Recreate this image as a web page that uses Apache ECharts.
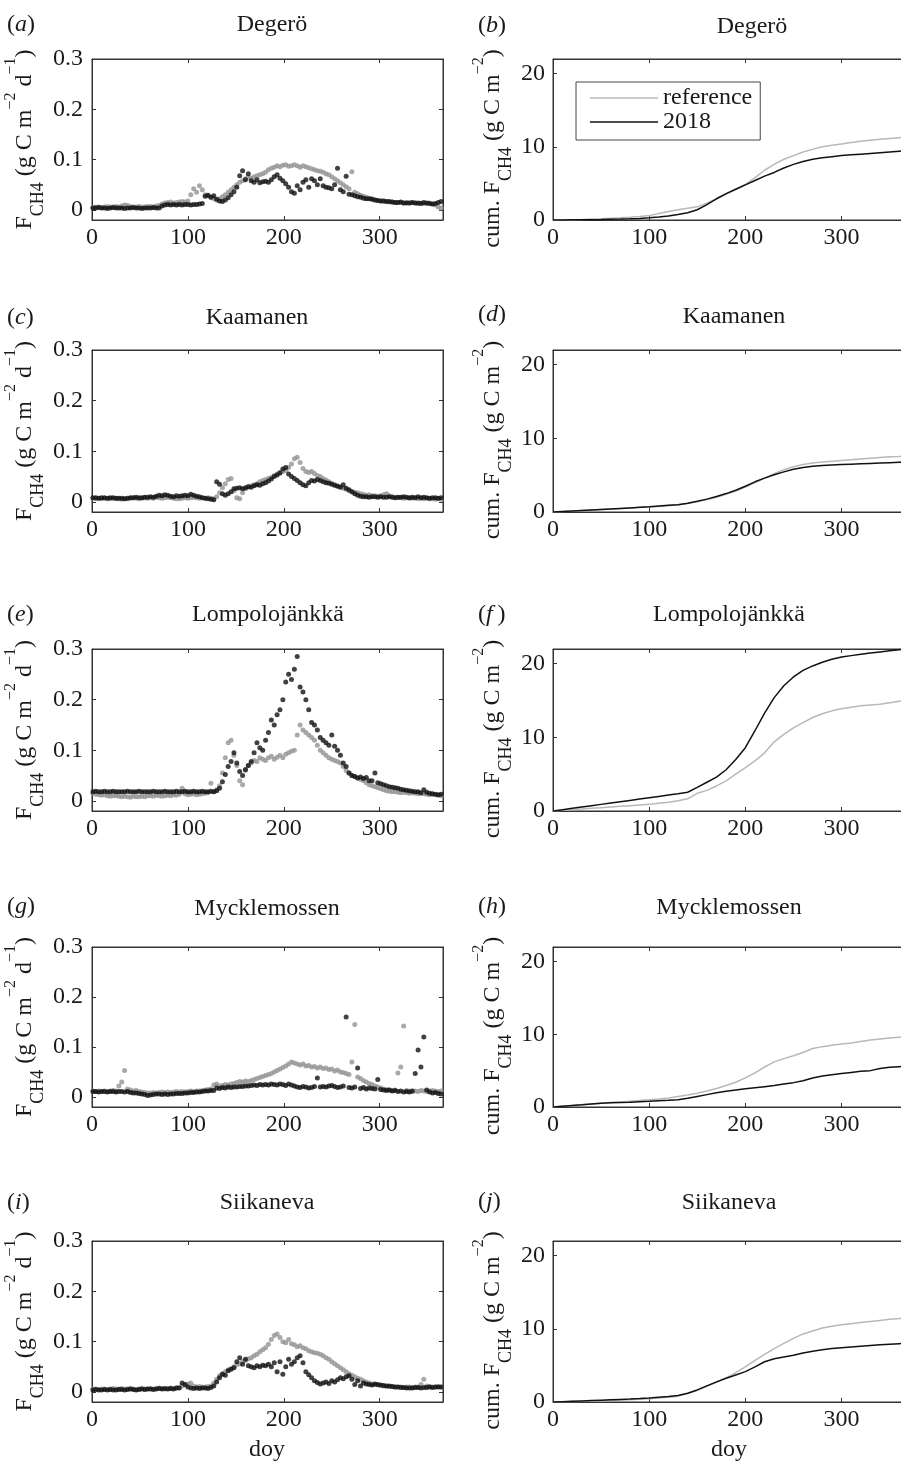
<!DOCTYPE html>
<html>
<head>
<meta charset="utf-8">
<title>CH4 fluxes, reference vs 2018</title>
<script src="https://cdn.jsdelivr.net/npm/echarts@6/dist/echarts.min.js"></script>
<style>
    html, body { margin: 0; padding: 0; background: #ffffff; }
    #chart { width: 901px; height: 1461px; }
</style>
</head>
<body>
<div id="chart"></div>
<script>
'use strict';

// ---- data ----
// day of year for the daily flux dots (every third day)
var days = [
    1, 4, 7, 10, 13, 16, 19, 22, 25, 28,
    31, 34, 37, 40, 43, 46, 49, 52, 55, 58,
    61, 64, 67, 70, 73, 76, 79, 82, 85, 88,
    91, 94, 97, 100, 103, 106, 109, 112, 115, 118,
    121, 124, 127, 130, 133, 136, 139, 142, 145, 148,
    151, 154, 157, 160, 163, 166, 169, 172, 175, 178,
    181, 184, 187, 190, 193, 196, 199, 202, 205, 208,
    211, 214, 217, 220, 223, 226, 229, 232, 235, 238,
    241, 244, 247, 250, 253, 256, 259, 262, 265, 268,
    271, 274, 277, 280, 283, 286, 289, 292, 295, 298,
    301, 304, 307, 310, 313, 316, 319, 322, 325, 328,
    331, 334, 337, 340, 343, 346, 349, 352, 355, 358,
    361, 364
];
// day of year for the cumulative curves
var cumDays = [0, 10, 20, 30, 40, 50, 60, 70, 80, 90, 100, 110, 120, 130, 140, 150, 160, 170, 180, 190,
    200, 210, 220, 230, 240, 250, 260, 270, 280, 290, 300, 310, 320, 330, 340, 350, 360, 366];

// tick labels
var fluxTicks = [0, 0.1, 0.2, 0.3];
var cumTicks = [0, 10, 20];
var doyTicks = [0, 100, 200, 300];

// daily F_CH4 (g C m-2 d-1)
var degeroRef = [
    0.005, 0.006, 0.006, 0.005, 0.006, 0.007, 0.006, 0.006, 0.007, 0.006,
    0.008, 0.010, 0.009, 0.007, 0.006, 0.006, 0.007, 0.006, 0.006, 0.007,
    0.007, 0.006, 0.008, 0.009, 0.012, 0.014, 0.015, 0.016, 0.014, 0.015,
    0.016, 0.017, 0.016, 0.018, 0.030, 0.042, 0.035, 0.048, 0.040, 0.030,
    0.028, 0.025, 0.022, 0.020, 0.022, 0.026, 0.030, 0.035, 0.040, 0.045,
    0.050, 0.055, 0.058, 0.062, 0.065, 0.063, 0.066, 0.068, 0.070, 0.072,
    0.075, 0.080, 0.083, 0.085, 0.088, 0.086, 0.089, 0.090, 0.087, 0.088,
    0.090, 0.088, 0.085, 0.088, 0.086, 0.084, 0.082, 0.080, 0.078, 0.077,
    0.075, 0.072, 0.070, 0.066, 0.062, 0.058, 0.054, 0.050, 0.046, 0.042,
    0.076, 0.035, 0.032, 0.029, 0.027, 0.025, 0.023, 0.022, 0.020, 0.019,
    0.018, 0.018, 0.017, 0.016, 0.016, 0.015, 0.015, 0.015, 0.014, 0.015,
    0.014, 0.015, 0.014, 0.013, 0.014, 0.013, 0.013, 0.014, 0.012, 0.010,
    0.006, 0.004
];
var degero2018 = [
    0.004, 0.004, 0.005, 0.004, 0.004, 0.003, 0.004, 0.005, 0.004, 0.004,
    0.004, 0.003, 0.004, 0.004, 0.005, 0.004, 0.004, 0.003, 0.004, 0.004,
    0.004, 0.005, 0.004, 0.004, 0.008, 0.010, 0.011, 0.010, 0.011, 0.010,
    0.011, 0.010, 0.011, 0.011, 0.010, 0.011, 0.011, 0.012, 0.013, 0.027,
    0.029, 0.025, 0.028, 0.021, 0.018, 0.017, 0.020, 0.024, 0.030, 0.036,
    0.045, 0.068, 0.078, 0.060, 0.072, 0.058, 0.055, 0.060, 0.054, 0.056,
    0.057, 0.055, 0.060, 0.066, 0.070, 0.063, 0.058, 0.052, 0.045, 0.036,
    0.033, 0.048, 0.040, 0.055, 0.060, 0.045, 0.062, 0.058, 0.050, 0.062,
    0.048, 0.045, 0.044, 0.042, 0.050, 0.083, 0.040, 0.036, 0.067, 0.031,
    0.030, 0.028, 0.026, 0.025, 0.023, 0.022, 0.022, 0.021, 0.020, 0.019,
    0.018, 0.018, 0.017, 0.017, 0.016, 0.015, 0.015, 0.016, 0.014, 0.014,
    0.014, 0.015, 0.014, 0.014, 0.013, 0.015, 0.014, 0.013, 0.012, 0.013,
    0.015, 0.017
];
var kaamanenRef = [
    0.007, 0.006, 0.007, 0.006, 0.007, 0.006, 0.006, 0.007, 0.006, 0.006,
    0.005, 0.006, 0.006, 0.007, 0.008, 0.007, 0.006, 0.007, 0.008, 0.007,
    0.008, 0.007, 0.009, 0.008, 0.007, 0.008, 0.009, 0.008, 0.007, 0.006,
    0.006, 0.007, 0.008, 0.007, 0.008, 0.009, 0.008, 0.007, 0.008, 0.007,
    0.008, 0.007, 0.006, 0.010, 0.018, 0.028, 0.036, 0.044, 0.046, 0.022,
    0.008, 0.006, 0.018, 0.026, 0.030, 0.032, 0.034, 0.036, 0.040, 0.042,
    0.044, 0.046, 0.048, 0.052, 0.055, 0.058, 0.060, 0.062, 0.068, 0.075,
    0.085, 0.088, 0.078, 0.066, 0.060, 0.058, 0.060, 0.056, 0.052, 0.050,
    0.046, 0.043, 0.040, 0.037, 0.034, 0.032, 0.030, 0.027, 0.025, 0.022,
    0.020, 0.019, 0.018, 0.016, 0.015, 0.013, 0.014, 0.012, 0.012, 0.011,
    0.012, 0.014, 0.016, 0.012, 0.010, 0.009, 0.008, 0.008, 0.007, 0.008,
    0.007, 0.007, 0.008, 0.006, 0.007, 0.006, 0.007, 0.006, 0.006, 0.005,
    0.006, 0.005
];
var kaamanen2018 = [
    0.008, 0.008, 0.007, 0.008, 0.008, 0.007, 0.008, 0.008, 0.007, 0.007,
    0.007, 0.006, 0.007, 0.008, 0.008, 0.009, 0.008, 0.008, 0.009, 0.009,
    0.010, 0.009, 0.011, 0.013, 0.012, 0.014, 0.013, 0.011, 0.010, 0.012,
    0.011, 0.012, 0.013, 0.012, 0.015, 0.013, 0.011, 0.010, 0.008, 0.007,
    0.006, 0.005, 0.004, 0.040, 0.035, 0.016, 0.013, 0.016, 0.020, 0.026,
    0.027, 0.028, 0.026, 0.028, 0.030, 0.029, 0.032, 0.034, 0.033, 0.036,
    0.038, 0.041, 0.045, 0.050, 0.053, 0.057, 0.065, 0.068, 0.055, 0.050,
    0.046, 0.042, 0.038, 0.034, 0.032, 0.038, 0.042, 0.041, 0.044, 0.042,
    0.040, 0.038, 0.037, 0.035, 0.033, 0.031, 0.029, 0.034, 0.027, 0.024,
    0.020, 0.016, 0.013, 0.011, 0.010, 0.010, 0.009, 0.010, 0.010, 0.009,
    0.010, 0.009, 0.009, 0.010, 0.009, 0.008, 0.009, 0.009, 0.010, 0.009,
    0.008, 0.009, 0.008, 0.010, 0.008, 0.009, 0.008, 0.007, 0.008, 0.008,
    0.007, 0.008
];
var lompoloRef = [
    0.015, 0.013, 0.012, 0.011, 0.012, 0.010, 0.009, 0.010, 0.010, 0.009,
    0.008, 0.009, 0.008, 0.007, 0.009, 0.008, 0.008, 0.009, 0.008, 0.010,
    0.010, 0.009, 0.011, 0.010, 0.009, 0.010, 0.011, 0.010, 0.012, 0.011,
    0.013, 0.025, 0.014, 0.012, 0.013, 0.014, 0.012, 0.013, 0.014, 0.015,
    0.016, 0.035, 0.018, 0.022, 0.030, 0.055, 0.085, 0.115, 0.120, 0.090,
    0.070, 0.040, 0.032, 0.060, 0.070, 0.075, 0.080, 0.078, 0.085, 0.082,
    0.080, 0.085, 0.088, 0.082, 0.086, 0.090, 0.085, 0.092, 0.095, 0.098,
    0.100, 0.130, 0.150, 0.140, 0.135, 0.130, 0.125, 0.120, 0.110, 0.100,
    0.095, 0.090, 0.085, 0.082, 0.080, 0.078, 0.075, 0.068, 0.060, 0.055,
    0.050, 0.048, 0.045, 0.042, 0.040, 0.036, 0.032, 0.030, 0.028, 0.026,
    0.024, 0.022, 0.020, 0.019, 0.018, 0.018, 0.017, 0.016, 0.017, 0.016,
    0.015, 0.016, 0.015, 0.014, 0.015, 0.014, 0.013, 0.012, 0.013, 0.012,
    0.011, 0.010
];
var lompolo2018 = [
    0.018, 0.019, 0.018, 0.018, 0.019, 0.018, 0.018, 0.019, 0.018, 0.018,
    0.018, 0.018, 0.019, 0.018, 0.018, 0.018, 0.019, 0.018, 0.018, 0.018,
    0.018, 0.019, 0.018, 0.018, 0.018, 0.019, 0.018, 0.018, 0.018, 0.019,
    0.018, 0.018, 0.019, 0.018, 0.018, 0.019, 0.018, 0.018, 0.019, 0.018,
    0.018, 0.019, 0.018, 0.020, 0.025, 0.038, 0.052, 0.068, 0.078, 0.095,
    0.075, 0.058, 0.050, 0.062, 0.070, 0.078, 0.095, 0.115, 0.105, 0.100,
    0.120, 0.135, 0.160, 0.150, 0.170, 0.180, 0.200, 0.235, 0.250, 0.240,
    0.260, 0.285, 0.225, 0.215, 0.200, 0.180, 0.155, 0.150, 0.140, 0.125,
    0.120, 0.115, 0.110, 0.130, 0.108, 0.100, 0.090, 0.075, 0.068, 0.055,
    0.050, 0.048, 0.045, 0.047, 0.044, 0.046, 0.040, 0.040, 0.055, 0.036,
    0.034, 0.032, 0.030, 0.028, 0.027, 0.026, 0.025, 0.023, 0.022, 0.021,
    0.020, 0.019, 0.018, 0.018, 0.016, 0.022, 0.017, 0.015, 0.014, 0.013,
    0.012, 0.013
];
var myckleRef = [
    0.012, 0.011, 0.012, 0.011, 0.012, 0.011, 0.012, 0.013, 0.012, 0.022,
    0.030, 0.053, 0.016, 0.014, 0.012, 0.013, 0.011, 0.010, 0.009, 0.008,
    0.008, 0.009, 0.008, 0.009, 0.010, 0.009, 0.010, 0.009, 0.010, 0.011,
    0.010, 0.011, 0.010, 0.011, 0.012, 0.011, 0.012, 0.012, 0.013, 0.014,
    0.015, 0.016, 0.024, 0.026, 0.022, 0.023, 0.025, 0.024, 0.026, 0.027,
    0.029, 0.031, 0.030, 0.032, 0.031, 0.033, 0.035, 0.037, 0.039, 0.041,
    0.043, 0.045, 0.047, 0.050, 0.053, 0.056, 0.059, 0.062, 0.066, 0.070,
    0.068, 0.066, 0.064, 0.066, 0.062, 0.063, 0.060, 0.061, 0.058, 0.060,
    0.057, 0.058, 0.055, 0.056, 0.052, 0.054, 0.050, 0.049, 0.047, 0.045,
    0.070, 0.145, 0.040, 0.037, 0.033, 0.030, 0.027, 0.025, 0.022, 0.020,
    0.018, 0.016, 0.015, 0.014, 0.013, 0.014, 0.048, 0.060, 0.142, 0.013,
    0.012, 0.011, 0.012, 0.011, 0.013, 0.012, 0.011, 0.012, 0.013, 0.012,
    0.011, 0.012
];
var myckle2018 = [
    0.011, 0.011, 0.010, 0.011, 0.011, 0.010, 0.011, 0.011, 0.010, 0.011,
    0.011, 0.010, 0.011, 0.009, 0.008, 0.008, 0.007, 0.006, 0.005, 0.003,
    0.004, 0.005, 0.006, 0.006, 0.005, 0.006, 0.005, 0.006, 0.006, 0.007,
    0.007, 0.007, 0.008, 0.008, 0.009, 0.009, 0.010, 0.010, 0.011, 0.012,
    0.012, 0.013, 0.013, 0.018, 0.017, 0.019, 0.018, 0.020, 0.019, 0.020,
    0.020, 0.021, 0.021, 0.022, 0.022, 0.023, 0.024, 0.023, 0.025, 0.024,
    0.025, 0.024, 0.026, 0.025, 0.024, 0.026, 0.025, 0.023, 0.026, 0.024,
    0.022, 0.020, 0.019, 0.021, 0.020, 0.018, 0.019, 0.021, 0.038, 0.020,
    0.021, 0.020, 0.022, 0.023, 0.021, 0.019, 0.020, 0.022, 0.160, 0.019,
    0.018, 0.020, 0.058, 0.017, 0.019, 0.016, 0.018, 0.017, 0.016, 0.035,
    0.015, 0.014, 0.013, 0.014, 0.012, 0.013, 0.011, 0.012, 0.010, 0.011,
    0.010, 0.012, 0.047, 0.094, 0.060, 0.120, 0.014, 0.010, 0.008, 0.009,
    0.007, 0.006
];
var siikaRef = [
    0.006, 0.006, 0.005, 0.006, 0.006, 0.005, 0.006, 0.007, 0.006, 0.006,
    0.007, 0.006, 0.006, 0.007, 0.006, 0.005, 0.006, 0.007, 0.006, 0.006,
    0.007, 0.006, 0.007, 0.008, 0.007, 0.006, 0.007, 0.008, 0.007, 0.008,
    0.009, 0.012, 0.014, 0.016, 0.018, 0.012, 0.010, 0.011, 0.010, 0.010,
    0.011, 0.012, 0.018, 0.025, 0.032, 0.036, 0.040, 0.044, 0.046, 0.050,
    0.054, 0.056, 0.060, 0.062, 0.066, 0.068, 0.072, 0.075, 0.080, 0.084,
    0.088, 0.095, 0.104, 0.112, 0.115, 0.108, 0.100, 0.098, 0.104, 0.096,
    0.094, 0.090, 0.092, 0.088, 0.086, 0.082, 0.080, 0.078, 0.077, 0.075,
    0.072, 0.068, 0.065, 0.060, 0.056, 0.052, 0.048, 0.044, 0.040, 0.036,
    0.033, 0.030, 0.027, 0.025, 0.022, 0.020, 0.018, 0.016, 0.015, 0.014,
    0.013, 0.012, 0.012, 0.011, 0.011, 0.010, 0.010, 0.010, 0.009, 0.010,
    0.010, 0.009, 0.010, 0.010, 0.015, 0.025, 0.012, 0.011, 0.010, 0.010,
    0.011, 0.010
];
var siika2018 = [
    0.004, 0.005, 0.004, 0.004, 0.005, 0.004, 0.005, 0.004, 0.004, 0.005,
    0.005, 0.004, 0.005, 0.006, 0.005, 0.004, 0.005, 0.006, 0.005, 0.006,
    0.006, 0.005, 0.006, 0.007, 0.006, 0.007, 0.006, 0.007, 0.006, 0.008,
    0.008, 0.018, 0.015, 0.010, 0.008, 0.007, 0.008, 0.007, 0.008, 0.008,
    0.007, 0.009, 0.012, 0.020, 0.028, 0.035, 0.033, 0.042, 0.045, 0.048,
    0.060, 0.068, 0.055, 0.065, 0.052, 0.050, 0.048, 0.052, 0.050, 0.053,
    0.052, 0.055, 0.050, 0.058, 0.040, 0.060, 0.035, 0.050, 0.065, 0.055,
    0.060, 0.068, 0.072, 0.058, 0.040, 0.034, 0.028, 0.022, 0.019, 0.016,
    0.018, 0.020, 0.017, 0.022, 0.020, 0.024, 0.028, 0.026, 0.030, 0.032,
    0.025, 0.015, 0.022, 0.012, 0.018, 0.016, 0.015, 0.014, 0.016, 0.015,
    0.014, 0.013, 0.012, 0.012, 0.011, 0.010, 0.010, 0.009, 0.009, 0.008,
    0.008, 0.008, 0.009, 0.009, 0.008, 0.009, 0.009, 0.010, 0.009, 0.010,
    0.010, 0.010
];

// cumulative F_CH4 (g C m-2)
var degeroCumRef = [0, 0.02, 0.05, 0.08, 0.13, 0.18, 0.24, 0.3, 0.38, 0.48, 0.6, 0.9, 1.15, 1.4, 1.6, 1.8, 2.3, 2.9, 3.5, 4.2,
    4.85, 5.8, 6.8, 7.6, 8.3, 8.8, 9.3, 9.65, 10.0, 10.2, 10.4, 10.6, 10.75, 10.9, 11.05, 11.15, 11.25, 11.3];
var degeroCum2018 = [0, 0.01, 0.02, 0.03, 0.05, 0.07, 0.1, 0.13, 0.17, 0.22, 0.3, 0.4, 0.55, 0.75, 1.0, 1.4, 2.1, 2.9, 3.6, 4.2,
    4.8, 5.4, 6.0, 6.5, 7.1, 7.6, 8.0, 8.3, 8.5, 8.65, 8.8, 8.9, 9.0, 9.1, 9.2, 9.3, 9.4, 9.45];
var kaamanenCumRef = [0, 0.07, 0.13, 0.2, 0.27, 0.34, 0.4, 0.47, 0.54, 0.6, 0.67, 0.75, 0.85, 0.97, 1.15, 1.4, 1.7, 2.0, 2.4, 2.85,
    3.4, 4.0, 4.6, 5.2, 5.75, 6.15, 6.45, 6.65, 6.8, 6.9, 7.0, 7.1, 7.2, 7.3, 7.4, 7.5, 7.55, 7.6];
var kaamanenCum2018 = [0, 0.07, 0.14, 0.21, 0.28, 0.35, 0.42, 0.49, 0.56, 0.63, 0.7, 0.8, 0.9, 1.0, 1.2, 1.45, 1.75, 2.1, 2.5, 2.95,
    3.5, 4.1, 4.6, 5.05, 5.45, 5.8, 6.05, 6.2, 6.3, 6.38, 6.45, 6.5, 6.55, 6.6, 6.65, 6.7, 6.75, 6.78];
var lompoloCumRef = [0, 0.09, 0.18, 0.27, 0.36, 0.45, 0.54, 0.63, 0.72, 0.81, 0.9, 1.05, 1.2, 1.4, 1.65, 2.4, 2.8, 3.4, 4.1, 5.0,
    5.9, 6.8, 7.9, 9.4, 10.4, 11.3, 12.0, 12.7, 13.2, 13.6, 13.9, 14.1, 14.3, 14.4, 14.5, 14.7, 14.9, 15.0];
var lompoloCum2018 = [0, 0.18, 0.36, 0.54, 0.72, 0.9, 1.08, 1.26, 1.44, 1.62, 1.8, 1.98, 2.16, 2.34, 2.55, 3.2, 3.9, 4.6, 5.6, 7.0,
    8.6, 10.9, 13.3, 15.4, 17.0, 18.2, 19.1, 19.7, 20.2, 20.6, 20.9, 21.1, 21.3, 21.45, 21.6, 21.75, 21.9, 22.0];
var myckleCumRef = [0, 0.12, 0.22, 0.32, 0.42, 0.52, 0.62, 0.7, 0.8, 0.9, 1.0, 1.1, 1.25, 1.45, 1.65, 1.9, 2.2, 2.55, 2.95, 3.4,
    4.0, 4.7, 5.5, 6.2, 6.65, 7.05, 7.5, 8.05, 8.3, 8.5, 8.65, 8.8, 9.0, 9.2, 9.35, 9.5, 9.6, 9.65];
var myckleCum2018 = [0, 0.1, 0.2, 0.3, 0.42, 0.52, 0.58, 0.62, 0.66, 0.72, 0.78, 0.85, 0.92, 1.0, 1.2, 1.45, 1.7, 1.95, 2.15, 2.35,
    2.5, 2.65, 2.8, 2.95, 3.15, 3.35, 3.6, 4.0, 4.25, 4.45, 4.6, 4.75, 4.9, 5.0, 5.3, 5.45, 5.55, 5.6];
var siikaCumRef = [0, 0.03, 0.07, 0.1, 0.14, 0.18, 0.22, 0.27, 0.32, 0.38, 0.45, 0.55, 0.65, 0.8, 1.15, 1.6, 2.15, 2.7, 3.3, 4.0,
    4.8, 5.7, 6.5, 7.3, 8.0, 8.7, 9.3, 9.7, 10.1, 10.35, 10.55, 10.7, 10.85, 11.0, 11.15, 11.3, 11.4, 11.45];
var siikaCum2018 = [0, 0.05, 0.1, 0.15, 0.2, 0.25, 0.3, 0.35, 0.4, 0.47, 0.55, 0.65, 0.75, 0.88, 1.2, 1.65, 2.2, 2.75, 3.25, 3.7,
    4.15, 4.8, 5.5, 5.9, 6.15, 6.4, 6.7, 6.95, 7.15, 7.3, 7.42, 7.52, 7.62, 7.72, 7.82, 7.9, 7.97, 8.0];

var siteNames = ['Degerö', 'Kaamanen', 'Lompolojänkkä', 'Mycklemossen', 'Siikaneva'];
var panelLetters = [['a', 'b'], ['c', 'd'], ['e', 'f'], ['g', 'h'], ['i', 'j']];
var seriesNames = ['reference', '2018'];

var sites = [
    { ref: degeroRef, now: degero2018, cumRef: degeroCumRef, cumNow: degeroCum2018 },
    { ref: kaamanenRef, now: kaamanen2018, cumRef: kaamanenCumRef, cumNow: kaamanenCum2018 },
    { ref: lompoloRef, now: lompolo2018, cumRef: lompoloCumRef, cumNow: lompoloCum2018 },
    { ref: myckleRef, now: myckle2018, cumRef: myckleCumRef, cumNow: myckleCum2018 },
    { ref: siikaRef, now: siika2018, cumRef: siikaCumRef, cumNow: siikaCum2018 }
];

// ---- layout / style ----
var FONT = '"Liberation Serif", "Times New Roman", serif';
var TEXT = '#1a1a1a';
var AXIS = '#333333';
var REF_DOT = '#939393';
var REF_LINE = '#b8b8b8';
var NOW_COLOR = '#111111';

// one entry per row of panels
var rows = [
    { top: 59, height: 161, titleX: [272, 752], titleY: [25, 27], letterY: [25, 26] },
    { top: 350, height: 162, titleX: [257, 734], titleY: [318, 317], letterY: [318, 315] },
    { top: 649, height: 162, titleX: [268, 729], titleY: [615, 615], letterY: [615, 615] },
    { top: 947, height: 160, titleX: [267, 729], titleY: [909, 908], letterY: [907, 907] },
    { top: 1241, height: 161, titleX: [267, 729], titleY: [1203, 1203], letterY: [1203, 1202] }
];
var colLeft = [92, 553];
var colWidth = [351, 352];
var letterX = [7, 478];

function pairs(xs, ys) {
    var out = [];
    for (var i = 0; i < xs.length; i++) {
        out.push([xs[i], ys[i]]);
    }
    return out;
}

// value axis with the MATLAB-like inward ticks; mirror axes get no labels
function makeAxis(gridIndex, position, min, max, ticks, withLabels, margin) {
    return {
        type: 'value',
        gridIndex: gridIndex,
        position: position,
        min: min,
        max: max,
        axisLine: { show: true, onZero: false, lineStyle: { color: AXIS, width: 1 } },
        axisTick: { show: true, inside: true, length: 4, customValues: ticks, lineStyle: { color: AXIS, width: 1 } },
        axisLabel: {
            show: withLabels, customValues: ticks, margin: margin,
            color: TEXT, fontFamily: FONT, fontSize: 24
        },
        splitLine: { show: false },
        splitArea: { show: false }
    };
}

var grids = [], xAxes = [], yAxes = [], series = [], graphics = [];

var yRich = {
    m: { fontFamily: FONT, fontSize: 24, lineHeight: 44, fill: TEXT, color: TEXT },
    s: { fontFamily: FONT, fontSize: 18, lineHeight: 24, verticalAlign: 'bottom', fill: TEXT, color: TEXT },
    u: { fontFamily: FONT, fontSize: 16, lineHeight: 20, verticalAlign: 'top', fill: TEXT, color: TEXT }
};
var letterRich = {
    p: { fontFamily: FONT, fontSize: 24, fill: TEXT, color: TEXT },
    i: { fontFamily: FONT, fontSize: 24, fontStyle: 'italic', fill: TEXT, color: TEXT }
};

function textEl(x, y, text, extra) {
    var style = {
        text: text,
        fontFamily: FONT,
        fontSize: 24,
        fill: TEXT,
        align: 'center', textAlign: 'center',
        verticalAlign: 'middle', textVerticalAlign: 'middle'
    };
    for (var k in extra) {
        style[k] = extra[k];
    }
    return { type: 'text', x: x, y: y, silent: true, style: style };
}

rows.forEach(function (row, r) {
    var site = sites[r];
    for (var c = 0; c < 2; c++) {
        var g = grids.length;
        grids.push({
            left: colLeft[c], top: row.top, width: colWidth[c], height: row.height,
            show: true, borderColor: AXIS, borderWidth: 1, backgroundColor: '#ffffff',
            containLabel: false, outerBoundsMode: 'none'
        });
        var yMin = c === 0 ? -0.02 : 0;
        var yMax = c === 0 ? 0.3 : 22;
        var yTicks = c === 0 ? fluxTicks : cumTicks;
        xAxes.push(makeAxis(g, 'bottom', 0, 366, doyTicks, true, 6));
        xAxes.push(makeAxis(g, 'top', 0, 366, doyTicks, false, 6));
        yAxes.push(makeAxis(g, 'left', yMin, yMax, yTicks, true, c === 0 ? 9 : 8));
        yAxes.push(makeAxis(g, 'right', yMin, yMax, yTicks, false, 8));

        if (c === 0) {
            // daily fluxes as dots, reference underneath
            series.push({
                name: 'reference daily', type: 'scatter', xAxisIndex: 2 * g, yAxisIndex: 2 * g,
                data: pairs(days, site.ref), symbol: 'circle', symbolSize: 5,
                itemStyle: { color: REF_DOT }, silent: true
            });
            series.push({
                name: '2018 daily', type: 'scatter', xAxisIndex: 2 * g, yAxisIndex: 2 * g,
                data: pairs(days, site.now), symbol: 'circle', symbolSize: 5,
                itemStyle: { color: NOW_COLOR }, silent: true
            });
        } else {
            series.push({
                name: seriesNames[0], type: 'line', xAxisIndex: 2 * g, yAxisIndex: 2 * g,
                data: pairs(cumDays, site.cumRef), symbol: 'none', showSymbol: false,
                lineStyle: { color: REF_LINE, width: 1.5 }, itemStyle: { color: REF_LINE }, silent: true
            });
            series.push({
                name: seriesNames[1], type: 'line', xAxisIndex: 2 * g, yAxisIndex: 2 * g,
                data: pairs(cumDays, site.cumNow), symbol: 'none', showSymbol: false,
                lineStyle: { color: NOW_COLOR, width: 1.5 }, itemStyle: { color: NOW_COLOR }, silent: true
            });
        }

        // panel letter and site title
        var letter = panelLetters[r][c] === 'f' ? 'f\u2009' : panelLetters[r][c];
        graphics.push(textEl(letterX[c], row.letterY[c], '{p|(}{i|' + letter + '}{p|)}', {
            rich: letterRich, align: 'left', textAlign: 'left'
        }));
        graphics.push(textEl(row.titleX[c], row.titleY[c], siteNames[r], {}));
    }

    // rotated y axis names
    var mid = row.top + row.height / 2;
    var left = textEl(25, mid, '{m|F}{s|CH4}{m| (g C m}{u|\u22122}{m| d}{u|\u22121}{m|)}', { rich: yRich });
    left.rotation = Math.PI / 2;
    graphics.push(left);
    var right = textEl(493, mid + 9, '{m|cum. F}{s|CH4}{m| (g C m}{u|\u22122}{m|)}', { rich: yRich });
    right.rotation = Math.PI / 2;
    graphics.push(right);
});

// x axis names under the bottom row
graphics.push(textEl(267, 1450, 'doy', {}));
graphics.push(textEl(729, 1450, 'doy', {}));

var chart = echarts.init(document.getElementById('chart'), null, { renderer: 'canvas' });
chart.setOption({
    backgroundColor: '#ffffff',
    animation: false,
    textStyle: { fontFamily: FONT, color: TEXT },
    grid: grids,
    xAxis: xAxes,
    yAxis: yAxes,
    legend: {
        data: seriesNames,
        orient: 'vertical',
        left: 576,
        top: 82,
        icon: 'rect',
        itemWidth: 68,
        itemHeight: 1.5,
        itemGap: 0,
        padding: [4, 8, 6, 14],
        borderColor: '#444444',
        borderWidth: 1,
        backgroundColor: '#ffffff',
        selectedMode: false,
        textStyle: { fontFamily: FONT, fontSize: 24, color: TEXT, lineHeight: 22 }
    },
    series: series,
    graphic: { elements: graphics }
});
</script>
</body>
</html>
